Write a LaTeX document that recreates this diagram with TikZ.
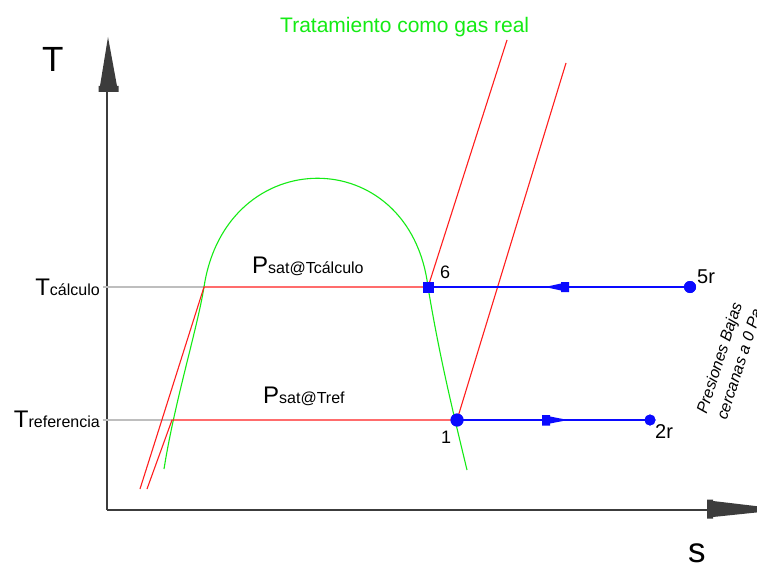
\documentclass[tikz,border=0pt]{standalone}
\usepackage{fontspec}
\setmainfont{Liberation Sans}
\definecolor{lred}{RGB}{255,30,30}
\definecolor{lgreen}{RGB}{20,235,20}
\definecolor{lblue}{RGB}{10,10,255}
\definecolor{lgray}{RGB}{190,190,190}
\definecolor{axisgray}{RGB}{60,60,60}
\newcommand{\myfs}[1]{\fontsize{#1}{#1}\selectfont}
\tikzset{
  isobar/.style={draw=lred, line width=1.1pt},
  proc/.style={draw=lblue, line width=1.5pt},
  refline/.style={draw=lgray, line width=1.5pt},
  dome/.style={draw=lgreen, line width=1.1pt},
  axisline/.style={draw=axisgray, line width=2pt},
  lbl/.style={inner sep=0pt, anchor=base west},
  lblr/.style={inner sep=0pt, anchor=base east},
  dot/.style={circle, fill=lblue, inner sep=0pt, minimum size=#1},
  sqdot/.style={rectangle, fill=lblue, inner sep=0pt, minimum size=11pt},
}
\begin{document}
\begin{tikzpicture}[x=1pt,y=-1pt]
\useasboundingbox (0,0) rectangle (757,567);
\clip (0,0) rectangle (757,567);
\fill[white] (0,0) rectangle (757,567);

% coordinates
\coordinate (O) at (107,510);
\coordinate (ytop) at (107,92);
\coordinate (xend) at (708,510);
\coordinate (gc) at (103,287);
\coordinate (gr) at (103,420);
\coordinate (c1) at (204,287);
\coordinate (r1) at (172,420);
\coordinate (b1) at (140,489);
\coordinate (b2) at (147,489);
\coordinate (t6) at (507,40);
\coordinate (t1) at (566,63);
\coordinate (d0) at (164,469);
\coordinate (d1) at (467,470);

% axes
\draw[axisline] (O) -- (ytop);
\draw[axisline] (O) -- (xend);
\fill[axisgray] (108,37) -- (100,86) -- (98.5,86) -- (98.5,92) -- (118.5,92) -- (118.5,86) -- (117,86) -- cycle;
\fill[axisgray] (785,509.5) -- (713,501) -- (713,499.5) -- (707,499.5) -- (707,518.5) -- (713,518.5) -- (713,517) -- cycle;
\node[lbl] (Tax) at (42,72) {\myfs{35}T};
\node[lbl] (sax) at (688,562) {\myfs{35}s};

% reference lines
\draw[refline] (gc) -- (c1);
\draw[refline] (gr) -- (r1);
\node[lblr] (Tcal) at (100,295) {\myfs{24}T\myfs{16}cálculo};
\node[lblr] (Tref) at (100,427) {\myfs{24}T\myfs{16}referencia};

% points
\node[sqdot] (p6) at (428,287) {};
\node[dot=12pt] (p5r) at (690,287) {};
\node[dot=13pt] (p1) at (457,420) {};
\node[dot=11pt] (p2r) at (650,420) {};

% saturation dome
\draw[dome] (d0) .. controls (175,400) and (197,330) .. (c1)
  .. controls (226,142) and (410,142) .. (p6.center)
  .. controls (440,360) and (455,420) .. (d1);

% isobars
\draw[isobar] (b1) -- (c1) -- (p6.center) -- (t6);
\draw[isobar] (b2) -- (r1) -- (p1.center) -- (t1);

% blue processes
\draw[proc] (p6.center) -- (p5r.center);
\draw[proc] (p1.center) -- (p2r.center);
\fill[lblue] (545,287) -- (561,283.5) -- (561,282) -- (569,282) -- (569,292) -- (561,292) -- (561,290.5) -- cycle;
\fill[lblue] (568,420) -- (550,416.5) -- (550,415) -- (542,415) -- (542,425.5) -- (550,425.5) -- (550,423.5) -- cycle;
\node[sqdot] at (p6) {};
\node[dot=12pt] at (p5r) {};
\node[dot=13pt] at (p1) {};
\node[dot=11pt] at (p2r) {};

% labels
\node[lbl] (l6) at (440,278) {\myfs{18}6};
\node[lbl] (l1) at (441,443) {\myfs{18}1};
\node[lbl] (l5r) at (697,283) {\myfs{20}5r};
\node[lbl] (l2r) at (655,438) {\myfs{20}2r};
\node[lbl] (pc) at (252,273) {\myfs{24}P\myfs{16}sat@Tcálculo};
\node[lbl] (pr) at (263,403) {\myfs{24}P\myfs{16}sat@Tref};
\node[lbl, text=lgreen] (title) at (280,33) {\myfs{21}Tratamiento como gas real};
\node[rotate=72, align=center, inner sep=0pt, font=\itshape\fontsize{16}{21}\selectfont] (low) at (729,361) {Presiones Bajas\\cercanas a 0 Pa};
\end{tikzpicture}
\end{document}
